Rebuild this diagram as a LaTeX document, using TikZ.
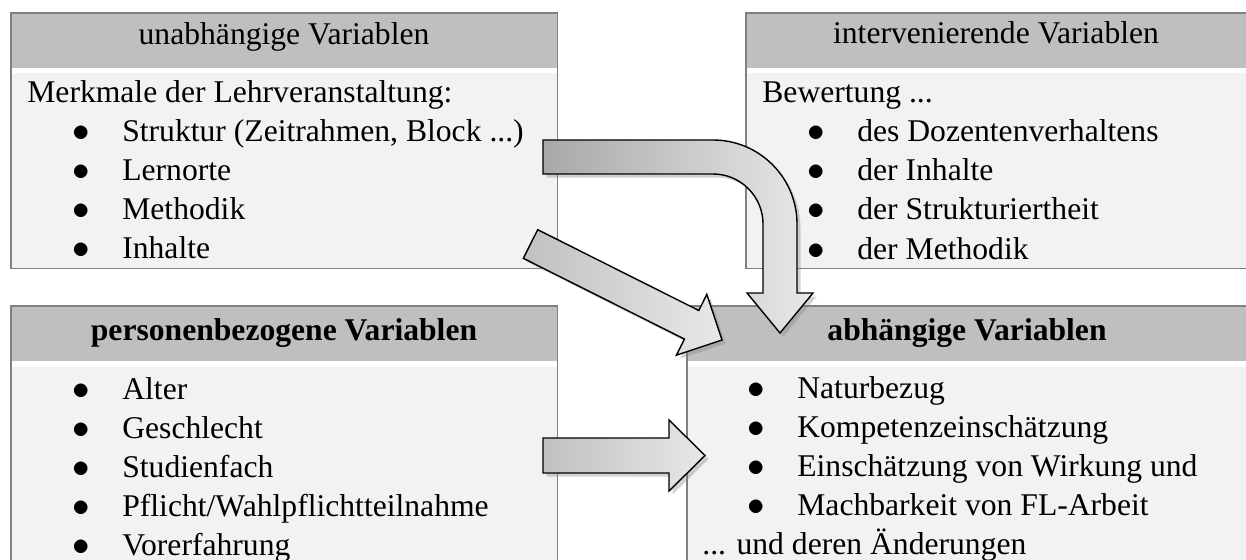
\documentclass[tikz,border=0pt]{standalone}
\usepackage{fontspec}
\setmainfont{Liberation Serif}
\usetikzlibrary{shadows}

\definecolor{hdrgray}{RGB}{191,191,191}
\definecolor{bodygray}{RGB}{242,242,242}
\definecolor{framegray}{RGB}{128,128,128}
\definecolor{arrowdark}{RGB}{192,192,192}
\definecolor{arrowlight}{RGB}{232,232,232}
\definecolor{bentdark}{RGB}{168,168,168}

\newcommand{\bulitem}{\hspace*{0.9cm}\makebox[1.0cm][l]{\scalebox{1.15}{$\bullet$}}}
\newcommand{\tridots}{...}

\begin{document}
\begin{tikzpicture}[
    x=0.02cm, y=-0.02cm,
    every node/.style={font=\fontsize{18}{22}\selectfont},
    hdr/.style={fill=hdrgray,anchor=north west,inner sep=0pt,minimum height=1.1cm},
    body/.style={fill=bodygray,anchor=north west,inner sep=0pt,minimum height=3.9cm},
    frame/.style={draw=framegray,line width=0.8pt},
    hdrtxt/.style={anchor=base,inner sep=0pt},
    rowtxt/.style={anchor=base west,inner sep=0pt},
    blockarrow/.style={draw=black,line width=0.8pt,line join=miter,left color=arrowdark,right color=arrowlight,
        drop shadow={shadow xshift=2pt,shadow yshift=-2pt,opacity=0.35}}
]
\useasboundingbox (0,0) rectangle (1246,560);

% boxes
\node[hdr,minimum width=10.92cm] (unabhH) at (11,13) {};
\node[body,minimum width=10.92cm] (unabhB) at (11,73) {};
\draw[frame] (unabhH.north west) rectangle (unabhB.south east);

\node[hdr,minimum width=10.04cm] (intervH) at (746,13) {};
\node[body,minimum width=10.04cm] (intervB) at (746,73) {};
\draw[frame] (intervH.north west) rectangle (intervB.south east);

\node[hdr,minimum width=10.92cm] (persH) at (11,306) {};
\node[body,minimum width=10.92cm] (persB) at (11,367) {};
\draw[frame] (persH.north west) rectangle (persB.south east);

\node[hdr,minimum width=11.22cm] (abhH) at (687,306) {};
\node[body,minimum width=11.22cm] (abhB) at (687,367) {};
\draw[frame] (abhH.north west) rectangle (abhB.south east);

% headings
\node[hdrtxt] (unabhT) at (284,45) {unabhängige Variablen};
\node[hdrtxt] (intervT) at (996,44) {intervenierende Variablen};
\node[hdrtxt,font=\fontsize{18}{22}\selectfont\bfseries] (persT) at (284,340) {personenbezogene Variablen};
\node[hdrtxt,font=\fontsize{18}{22}\selectfont\bfseries] (abhT) at (967,340) {abhängige Variablen};

% lists
\foreach \txt [count=\i from 0] in {{Merkmale der Lehrveranstaltung:},{\bulitem Struktur (Zeitrahmen, Block \tridots)},
    {\bulitem Lernorte},{\bulitem Methodik},{\bulitem Inhalte}}
  \node[rowtxt] (unabh\i) at (27,103+38.75*\i) {\txt};

\foreach \txt [count=\i from 0] in {{Bewertung \tridots},{\bulitem des Dozentenverhaltens},{\bulitem der Inhalte},
    {\bulitem der Strukturiertheit},{\bulitem der Methodik}}
  \node[rowtxt] (interv\i) at (762,103+39*\i) {\txt};

\foreach \txt [count=\i from 0] in {{\bulitem Alter},{\bulitem Geschlecht},{\bulitem Studienfach},
    {\bulitem Pflicht/Wahlpflichtteilnahme},{\bulitem Vorerfahrung}}
  \node[rowtxt] (pers\i) at (27,399+39.1*\i) {\txt};

\foreach \txt [count=\i from 0] in {{\bulitem Naturbezug},{\bulitem Kompetenzeinschätzung},{\bulitem Einschätzung von Wirkung und},
    {\bulitem Machbarkeit von FL-Arbeit},{\tridots{} und deren Änderungen}}
  \node[rowtxt] (abh\i) at (702,398+39.2*\i) {\txt};

% block arrows
\coordinate (intervOut) at (543,157);
\coordinate (abhInB) at (780,333);
\coordinate (unabhOut) at (530.5,244);
\coordinate (abhInD) at (722,340);
\coordinate (persOut) at (543,455.5);
\coordinate (abhIn) at (705,455.5);

\draw[blockarrow,left color=bentdark] (intervOut) ++(0,-17) -- (713,140) .. controls (759.4,140) and (797,177.6) .. (797,224)
    -- (797,293) -- (813,293) -- (abhInB) -- (747,293) -- (763,293) -- (763,224)
    .. controls (763,196.4) and (740.6,174) .. (713,174) -- (543,174) -- cycle;

\draw[blockarrow] (unabhOut) ++(7.2,-14.3) -- (698.8,310.5) -- (706.8,294.4) -- (abhInD)
    -- (676.4,355.2) -- (684.4,339.1) -- (523.3,258.3) -- cycle;

\draw[blockarrow] (persOut) ++(0,-17.5) -- ++(126,0) -- ++(0,-18) -- (abhIn) -- ++(-36,35.5)
    -- ++(0,-18) -- ++(-126,0) -- cycle;
\end{tikzpicture}
\end{document}
